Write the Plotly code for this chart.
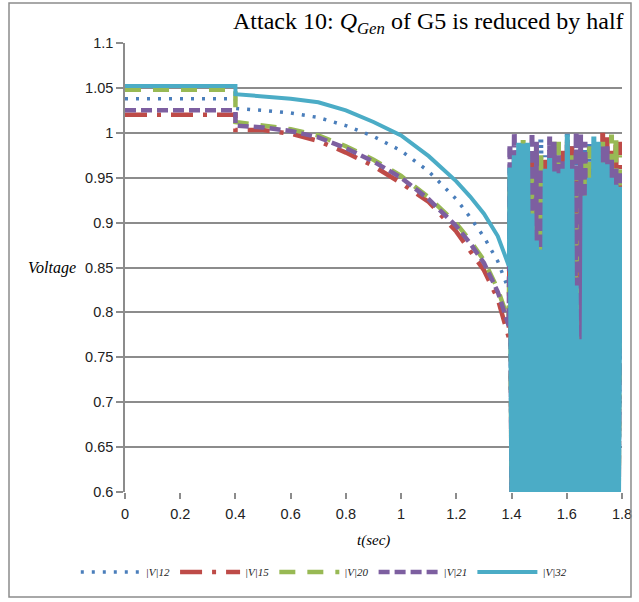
import plotly.graph_objects as go

# ---- data ----
t_pre = [0, 0.4, 0.4, 0.5, 0.6, 0.7, 0.8, 0.9, 1.0, 1.1, 1.2, 1.25, 1.3, 1.35, 1.39]
v12_pre = [1.038, 1.038, 1.027, 1.025, 1.022, 1.017, 1.008, 0.996, 0.980, 0.957, 0.926, 0.906, 0.884, 0.857, 0.825]
v15_pre = [1.020, 1.020, 1.003, 1.003, 0.999, 0.991, 0.978, 0.963, 0.944, 0.923, 0.890, 0.869, 0.847, 0.815, 0.772]
v20_pre = [1.048, 1.048, 1.012, 1.008, 1.004, 0.997, 0.985, 0.970, 0.952, 0.928, 0.899, 0.880, 0.858, 0.826, 0.790]
v21_pre = [1.025, 1.025, 1.008, 1.006, 1.002, 0.995, 0.983, 0.968, 0.950, 0.926, 0.896, 0.877, 0.855, 0.823, 0.785]
v32_pre = [1.052, 1.052, 1.043, 1.041, 1.038, 1.034, 1.025, 1.012, 0.997, 0.974, 0.946, 0.929, 0.910, 0.885, 0.852]

t_osc = [1.394, 1.402, 1.410, 1.418, 1.426, 1.434, 1.442, 1.450, 1.458, 1.466,
         1.474, 1.482, 1.490, 1.498, 1.506, 1.514, 1.522, 1.530, 1.538, 1.546,
         1.554, 1.562, 1.570, 1.578, 1.586, 1.594, 1.602, 1.610, 1.618, 1.626,
         1.634, 1.642, 1.650, 1.658, 1.666, 1.674, 1.682, 1.690, 1.698, 1.706,
         1.714, 1.722, 1.730, 1.738, 1.746, 1.754, 1.762, 1.770, 1.778, 1.786,
         1.794]

v12_osc = [0.950, 0.56, 0.960, 0.53, 0.975, 0.55, 0.970, 0.52, 0.965, 0.56,
           0.980, 0.54, 0.970, 0.55, 0.994, 0.53, 0.975, 0.56, 0.970, 0.52,
           0.980, 0.55, 0.965, 0.53, 0.975, 0.56, 1.000, 0.54, 0.985, 0.52,
           0.975, 0.55, 0.990, 0.53, 0.985, 0.56, 0.990, 0.52, 0.980, 0.55,
           0.970, 0.53, 0.975, 0.56, 0.965, 0.54, 0.970, 0.52, 0.960, 0.55,
           0.965]
v15_osc = [0.940, 0.55, 0.955, 0.52, 0.970, 0.56, 0.960, 0.53, 0.950, 0.55,
           0.970, 0.52, 0.960, 0.56, 0.945, 0.54, 0.970, 0.52, 0.975, 0.55,
           0.965, 0.53, 0.960, 0.56, 0.980, 0.52, 0.990, 0.55, 0.985, 0.53,
           0.960, 0.56, 0.970, 0.52, 0.975, 0.55, 0.965, 0.53, 0.970, 0.56,
           0.975, 0.52, 1.000, 0.55, 0.995, 0.53, 0.980, 0.56, 0.990, 0.52,
           0.990]
v20_osc = [0.950, 0.54, 0.960, 0.56, 0.975, 0.52, 0.992, 0.55, 0.970, 0.53,
           0.960, 0.56, 0.985, 0.52, 0.975, 0.55, 0.950, 0.53, 0.960, 0.56,
           0.990, 0.52, 0.990, 0.55, 0.965, 0.53, 0.970, 0.56, 0.975, 0.52,
           0.960, 0.55, 0.965, 0.53, 0.970, 0.56, 0.985, 0.52, 0.980, 0.55,
           0.970, 0.53, 0.990, 0.56, 0.975, 0.52, 0.998, 0.55, 0.995, 0.53,
           0.975]
v21_osc = [0.985, 0.53, 1.000, 0.55, 0.960, 0.52, 0.950, 0.56, 0.970, 0.54,
           1.000, 0.52, 0.990, 0.55, 0.960, 0.53, 0.920, 0.56, 0.996, 0.52,
           0.990, 0.55, 0.975, 0.53, 0.970, 0.56, 0.985, 0.52, 0.970, 0.55,
           1.000, 0.53, 0.998, 0.56, 0.990, 0.52, 0.950, 0.55, 0.960, 0.53,
           0.970, 0.56, 0.985, 0.52, 0.985, 0.55, 0.970, 0.53, 0.960, 0.56,
           0.955]
v32_osc = [0.961, 0.55, 0.975, 0.52, 0.989, 0.56, 0.988, 0.53, 0.989, 0.55,
           0.910, 0.52, 0.880, 0.56, 0.870, 0.54, 0.960, 0.52, 0.972, 0.55,
           0.957, 0.53, 0.955, 0.56, 0.960, 0.52, 0.998, 0.55, 0.960, 0.53,
           0.830, 0.56, 0.770, 0.52, 0.930, 0.55, 0.950, 0.53, 0.996, 0.56,
           0.990, 0.52, 0.967, 0.55, 0.965, 0.53, 0.950, 0.56, 0.942, 0.52,
           0.940]

series_names = ["|V|12", "|V|15", "|V|20", "|V|21", "|V|32"]
x_ticks = [0, 0.2, 0.4, 0.6, 0.8, 1, 1.2, 1.4, 1.6, 1.8]
y_ticks = [0.6, 0.65, 0.7, 0.75, 0.8, 0.85, 0.9, 0.95, 1, 1.05, 1.1]

# ---- styles ----
styles = [
    dict(color="#4A7EBB", width=3.5, dash="3px,8px"),
    dict(color="#BE4B48", width=4.5, dash="22px,10px,4px,10px"),
    dict(color="#98B954", width=4.5, dash="16px,12px"),
    dict(color="#7D5FA0", width=4.5, dash="11px,5px"),
    dict(color="#4BACC6", width=4, dash="solid"),
]
pre = [v12_pre, v15_pre, v20_pre, v21_pre, v32_pre]
osc = [v12_osc, v15_osc, v20_osc, v21_osc, v32_osc]

fig = go.Figure()
for name, st, p, o in zip(series_names, styles, pre, osc):
    fig.add_trace(go.Scatter(
        x=t_pre + t_osc[:1], y=p + o[:1], mode="lines", name="<i>" + name + "</i>",
        line=st, legendgroup=name,
    ))
    st_osc = dict(st)
    st_osc["width"] = 5
    fig.add_trace(go.Scatter(
        x=t_osc, y=o, mode="lines", showlegend=False, legendgroup=name,
        line=st_osc,
    ))

serif = "Liberation Serif"
tickfont = dict(family="Liberation Sans", size=14.5, color="#222")

fig.update_layout(
    width=639, height=602,
    margin=dict(l=125, r=17, t=43, b=110),
    paper_bgcolor="white", plot_bgcolor="white",
    showlegend=True,
    legend=dict(orientation="h", x=0.40, xanchor="center", y=-0.178, yanchor="middle",
                font=dict(family=serif, size=11, color="#222"), itemwidth=60,
                traceorder="normal", tracegroupgap=0),
    xaxis=dict(range=[0, 1.8], tickvals=x_ticks, showgrid=False, zeroline=False,
               showline=False, ticks="outside", ticklen=6, tickcolor="#8c8c8c",
               tickwidth=1.5, tickfont=tickfont, automargin=False,
               ticklabelstandoff=3),
    yaxis=dict(range=[0.6, 1.1], tickvals=y_ticks, showgrid=True, gridcolor="#8c8c8c",
               gridwidth=1.5, zeroline=False, showline=True, linecolor="#8c8c8c",
               linewidth=1.5, ticks="outside", ticklen=7, tickcolor="#8c8c8c",
               tickwidth=1.5, tickfont=tickfont, automargin=False),
    shapes=[dict(type="rect", xref="paper", yref="paper",
                 x0=-0.2334, x1=1.0181, y0=-0.2339, y1=1.0891,
                 line=dict(color="#8c8c8c", width=1.5))],
    annotations=[
        dict(text="Attack 10: <i>Q</i><sub><i>Gen</i></sub> of G5 is reduced by half",
             xref="paper", yref="paper", x=1.008, y=1.045, xanchor="right",
             yanchor="middle", showarrow=False, font=dict(family=serif, size=24, color="#000")),
        dict(text="<i>Voltage</i>", xref="paper", yref="y", x=-0.094, y=0.85,
             xanchor="right", yanchor="middle", showarrow=False,
             font=dict(family=serif, size=16, color="#000")),
        dict(text="<i>t(sec)</i>", xref="paper", yref="paper", x=0.5, y=-0.107,
             xanchor="center", yanchor="middle", showarrow=False,
             font=dict(family=serif, size=15, color="#000")),
    ],
)

fig.write_html("out.html")
